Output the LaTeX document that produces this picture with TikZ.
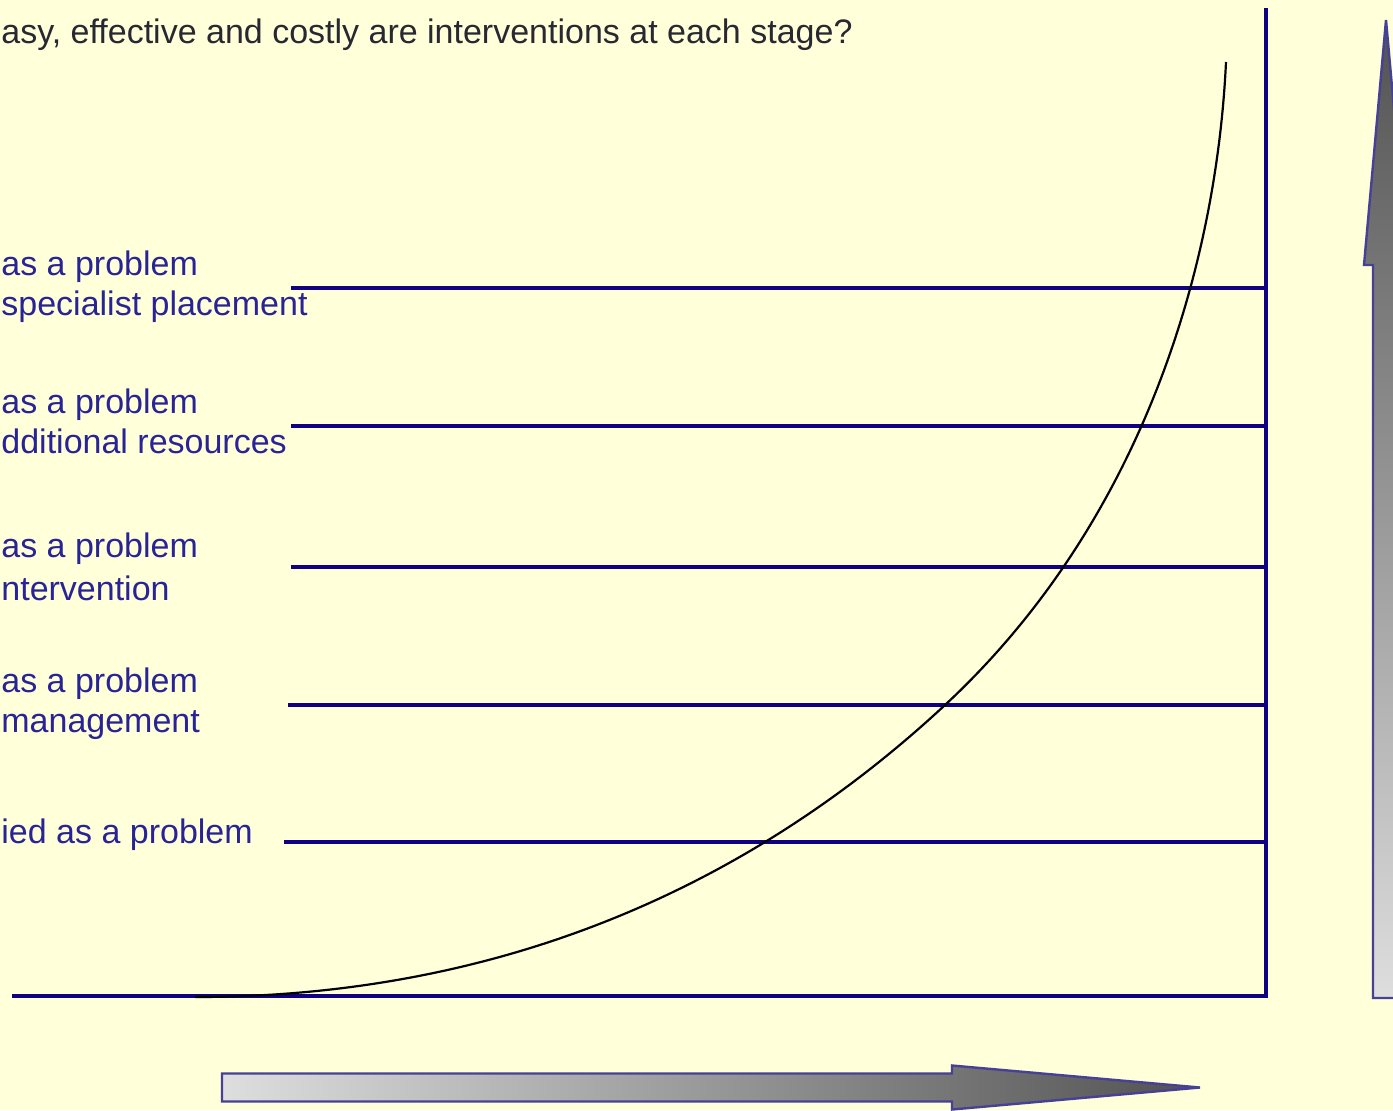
\documentclass[tikz,border=0pt]{standalone}
\usepackage{fontspec}
\setmainfont{Liberation Sans}
\usepackage{xcolor}

\definecolor{paper}{RGB}{255,255,218}
\definecolor{rulenavy}{RGB}{16,0,130}
\definecolor{labelnavy}{RGB}{40,36,150}
\definecolor{titlegrey}{RGB}{40,40,50}
\definecolor{arrowedge}{RGB}{70,64,150}

\begin{document}
\begin{tikzpicture}[x=0.5pt,y=-0.5pt,
  rule/.style={draw=rulenavy, line width=1.6pt},
  stage/.style={text=labelnavy, font=\fontsize{17}{20}\selectfont, anchor=base west, inner sep=0pt},
  blockarrow/.style={draw=arrowedge, line width=1.2pt, line join=miter}]
  \useasboundingbox (0,0) rectangle (1393,1110);
  \fill[paper] (0,0) rectangle (1393,1110);
  \clip (0,0) rectangle (1393,1110);

  \node[anchor=base west, inner sep=0pt, text=titlegrey, font=\fontsize{17}{20}\selectfont] (title) at (1,43) {asy, effective and costly are interventions at each stage?};

  \node[stage] (p5a) at (1,275) {as a problem};
  \node[stage] (p5b) at (1,315) {specialist placement};
  \node[stage] (p4a) at (1,413) {as a problem};
  \node[stage] (p4b) at (1,453) {dditional resources};
  \node[stage] (p3a) at (1,557) {as a problem};
  \node[stage] (p3b) at (1,600) {ntervention};
  \node[stage] (p2a) at (1,692) {as a problem};
  \node[stage] (p2b) at (1,732) {management};
  \node[stage] (p1) at (1,843) {ied as a problem};

  \coordinate (origin) at (12,996);
  \coordinate (corner) at (1266,996);
  \coordinate (top) at (1266,8);
  \draw[rule] (origin) -- (corner) -- (top);
  \foreach \y/\x in {288/291,426/291,567/291,705/288,842/284}
    \draw[rule] (\x,\y) -- (\x,\y -| corner);

  \coordinate (low) at (195,997);
  \coordinate (mid) at (945,705);
  \coordinate (high) at (1226,62);
  \draw[line width=1.1pt] (low) .. controls (495,997) and (745,891) .. (mid)
    .. controls (1145,519) and (1216.6,262) .. (high);

  \path[blockarrow, top color=black!68, bottom color=black!13]
    (1373,998) -- (1373,265) -- (1364,265) -- (1386,20) -- (1408,265) -- (1399,265) -- (1399,998) -- cycle;
  \path[blockarrow, left color=black!13, right color=black!68]
    (222,1073.5) -- (952,1073.5) -- (952,1065.5) -- (1200,1087.5) -- (952,1109.5) -- (952,1101.5) -- (222,1101.5) -- cycle;
\end{tikzpicture}
\end{document}
